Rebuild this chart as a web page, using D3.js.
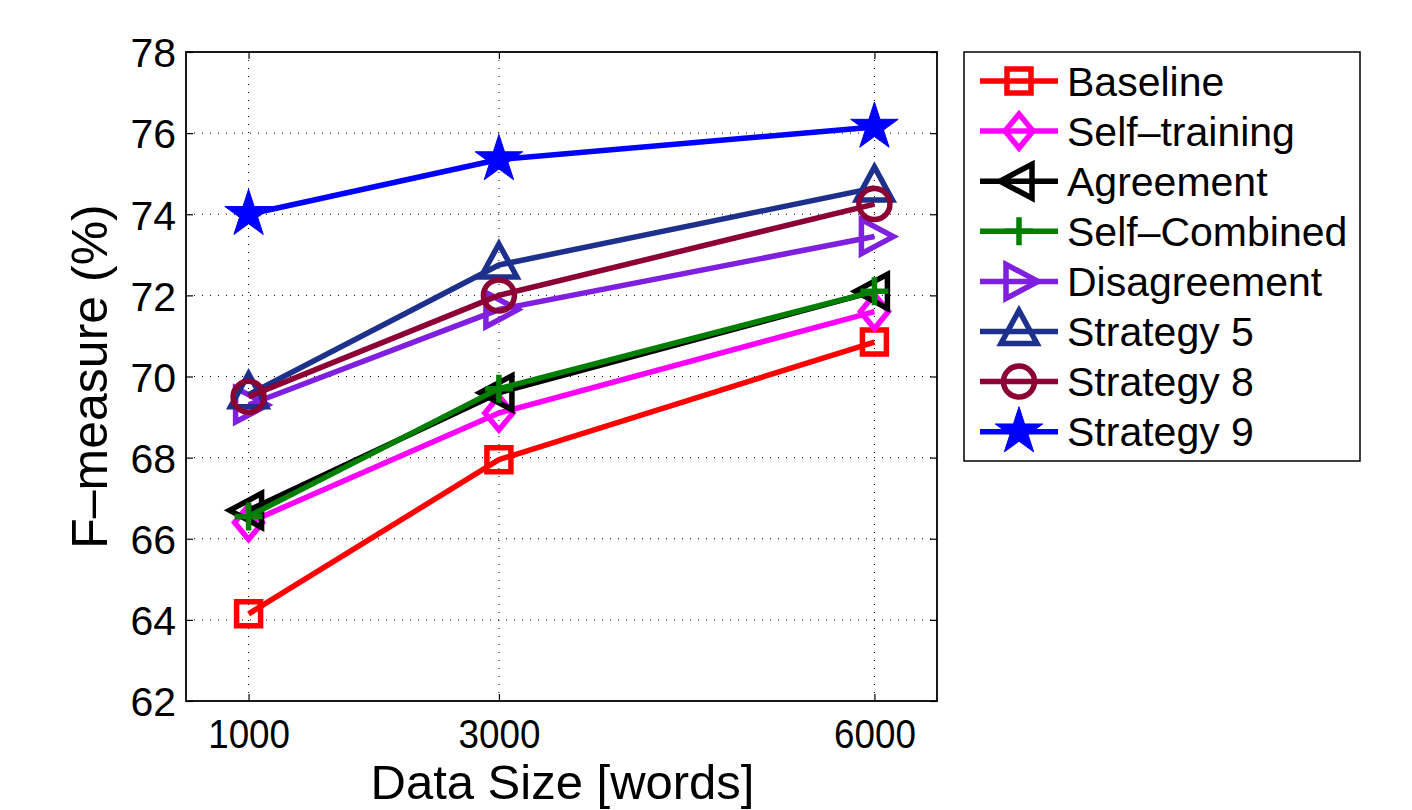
<!DOCTYPE html>
<html>
<head>
<meta charset="UTF-8">
<script src="https://d3js.org/d3.v7.min.js"></script>
<style>
  body { margin: 0; background: #fff; }
  text { font-family: "Liberation Sans", Arial, sans-serif; fill: #000; }
</style>
</head>
<body>
<svg id="canvas"></svg>
<script>
// data
const sizes = [1000, 3000, 6000];
const xTicks = [1000, 3000, 6000];
const yTicks = [62, 64, 66, 68, 70, 72, 74, 76, 78];

const names = ["Baseline", "Self\u2013training", "Agreement", "Self\u2013Combined",
               "Disagreement", "Strategy 5", "Strategy 8", "Strategy 9"];
const baseline     = [64.15, 67.95, 70.85];
const selfTraining = [66.4, 69.1, 71.6];
const agreement    = [66.7, 69.6, 72.1];
const selfCombined = [66.55, 69.7, 72.1];
const disagreement = [69.3, 71.65, 73.45];
const strategy5    = [69.55, 72.75, 74.65];
const strategy8    = [69.5, 72.0, 74.25];
const strategy9    = [74.0, 75.35, 76.15];

const seriesValues = [baseline, selfTraining, agreement, selfCombined,
                      disagreement, strategy5, strategy8, strategy9];
const colors = ["#ff0000", "#ff00ff", "#000000", "#007f00",
                "#7f1fdf", "#1c308c", "#8c0033", "#0000ff"];
const markers = ["square", "diamond", "triLeft", "plus",
                 "triRight", "triUp", "circle", "star"];

const width = 1412, height = 810;
const pL = 186, pR = 937, pT = 52, pB = 701;
const lw = 5.5;

const svg = d3.select("#canvas").attr("width", width).attr("height", height);

const x = d3.scaleLinear().domain([500, 6500]).range([pL, pR]);
const y = d3.scaleLinear().domain([62, 78]).range([pB, pT]);

// dotted grid
svg.append("g").selectAll("line").data(yTicks.slice(1, -1)).enter().append("line")
    .attr("x1", pL).attr("x2", pR)
    .attr("y1", d => y(d)).attr("y2", d => y(d))
    .attr("stroke", "#000").attr("stroke-width", 1).attr("stroke-dasharray", "1,7");
svg.append("g").selectAll("line").data(xTicks).enter().append("line")
    .attr("x1", d => x(d)).attr("x2", d => x(d))
    .attr("y1", pT).attr("y2", pB)
    .attr("stroke", "#000").attr("stroke-width", 1).attr("stroke-dasharray", "1,7");

// axes with inward ticks
const yAxis = svg.append("g").attr("transform", `translate(${pL},0)`)
    .call(d3.axisLeft(y).tickValues(yTicks).tickSizeInner(-7).tickSizeOuter(0).tickPadding(10));
const yAxisR = svg.append("g").attr("transform", `translate(${pR},0)`)
    .call(d3.axisRight(y).tickValues(yTicks).tickSizeInner(-7).tickSizeOuter(0).tickFormat(""));
const xAxis = svg.append("g").attr("transform", `translate(0,${pB})`)
    .call(d3.axisBottom(x).tickValues(xTicks).tickFormat(d3.format("d"))
        .tickSizeInner(-7).tickSizeOuter(0).tickPadding(18));
const xAxisT = svg.append("g").attr("transform", `translate(0,${pT})`)
    .call(d3.axisTop(x).tickValues(xTicks).tickSizeInner(-7).tickSizeOuter(0).tickFormat(""));
[yAxis, yAxisR, xAxis, xAxisT].forEach(a => {
    a.select(".domain").remove();
    a.selectAll(".tick line").attr("stroke", "#000").attr("stroke-width", 1.2);
});
yAxis.selectAll(".tick text").attr("font-size", 41).attr("dy", "0.36em");
xAxis.selectAll(".tick text").attr("font-size", 40).attr("dy", "0.72em")
    .attr("transform", "scale(0.92,1)");

svg.append("rect").attr("x", pL).attr("y", pT)
    .attr("width", pR - pL).attr("height", pB - pT)
    .attr("fill", "none").attr("stroke", "#000").attr("stroke-width", 1.8);

// axis titles
svg.append("text").attr("transform", `translate(107,${(pT + pB) / 2}) rotate(-90)`)
    .attr("text-anchor", "middle").attr("font-size", 50).text("F\u2013measure (%)");
svg.append("text").attr("transform", `translate(${(pL + pR) / 2 + 1},799)`)
    .attr("text-anchor", "middle").attr("font-size", 49).text("Data Size [words]");

// marker shapes
function markerPath(type) {
    switch (type) {
        case "square": return "M-12,-12H12V12H-12Z";
        case "diamond": return "M0,-17L14,0L0,17L-14,0Z";
        case "triLeft": return "M-19,0L13,-17V17Z";
        case "triRight": return "M19,0L-13,-17V17Z";
        case "triUp": return "M0,-21L18,12H-18Z";
        case "plus": return "M-14,0H14M0,-14V14";
        case "circle": return d3.arc()({innerRadius: 0, outerRadius: 15.5, startAngle: 0, endAngle: 2 * Math.PI});
        case "star": return d3.symbol().type(d3.symbolStar).size(700)();
    }
}

const line = d3.line().x((d, i) => x(sizes[i])).y(d => y(d));

seriesValues.forEach((vals, k) => {
    const g = svg.append("g");
    g.append("path").attr("d", line(vals))
        .attr("fill", "none").attr("stroke", colors[k]).attr("stroke-width", lw)
        .attr("stroke-linejoin", "round");
    g.selectAll("path.m").data(vals).enter().append("path").attr("class", "m")
        .attr("d", markerPath(markers[k]))
        .attr("transform", (d, i) => `translate(${x(sizes[i])},${y(d)})`)
        .attr("fill", markers[k] === "star" ? colors[k] : "none")
        .attr("stroke", colors[k]).attr("stroke-width", markers[k] === "star" ? 1 : lw);
});

// legend
const lg = svg.append("g");
lg.append("rect").attr("x", 964).attr("y", 52).attr("width", 396).attr("height", 409)
    .attr("fill", "#fff").attr("stroke", "#000").attr("stroke-width", 1.5);
names.forEach((n, k) => {
    const cy = 81 + k * 50.1;
    lg.append("line").attr("x1", 980).attr("x2", 1058).attr("y1", cy).attr("y2", cy)
        .attr("stroke", colors[k]).attr("stroke-width", lw);
    lg.append("path").attr("d", markerPath(markers[k]))
        .attr("transform", `translate(1019,${cy})`)
        .attr("fill", markers[k] === "star" ? colors[k] : "none")
        .attr("stroke", colors[k]).attr("stroke-width", markers[k] === "star" ? 1 : lw);
    lg.append("text").attr("x", 1067).attr("y", cy).attr("dy", "0.36em")
        .attr("font-size", 41).text(n);
});
</script>
</body>
</html>
